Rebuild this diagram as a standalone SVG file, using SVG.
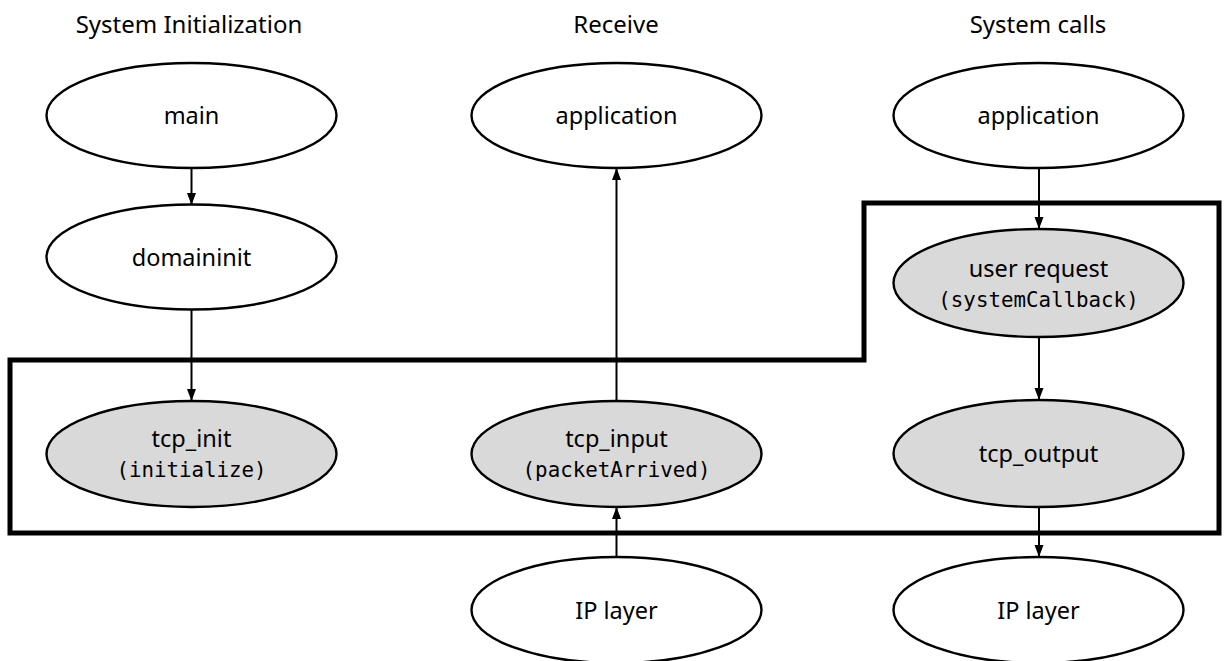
<svg xmlns="http://www.w3.org/2000/svg" width="1225" height="661" viewBox="0 0 1225 661">
<defs>
<style>
.n{stroke:#000;stroke-width:2.4;fill:#fff}
.g{fill:#d9d9d9}
.t{font-family:"Noto Sans","Open Sans","DejaVu Sans",sans-serif;font-size:23.5px;text-anchor:middle;fill:#000}
.m{font-family:"DejaVu Sans Mono","Liberation Mono",monospace;font-size:20.8px;text-anchor:middle;fill:#000}
.h{font-family:"Noto Sans","Open Sans","DejaVu Sans",sans-serif;font-size:24px;text-anchor:middle;fill:#000}
.e{stroke:#000;stroke-width:2;fill:none;marker-end:url(#a)}
</style>
<marker id="a" viewBox="0 0 12 10" refX="12" refY="5" markerWidth="12" markerHeight="10" markerUnits="userSpaceOnUse" orient="auto">
<path d="M0,0.5 L12,5 L0,9.5 Z" fill="#000"/>
</marker>
</defs>
<rect width="1225" height="661" fill="#fff"/>
<g id="headers">
<text class="h" x="189" y="33">System Initialization</text>
<text class="h" x="616" y="33">Receive</text>
<text class="h" x="1038" y="33">System calls</text>
</g>
<g id="boundary">
<polygon points="10,360 864,360 864,203 1219,203 1219,533 10,533" fill="none" stroke="#000" stroke-width="5"/>
</g>
<g id="connectors">
<line class="e" x1="191.5" y1="168" x2="191.5" y2="205"/>
<line class="e" x1="191.5" y1="309" x2="191.5" y2="401"/>
<line class="e" x1="616.5" y1="401" x2="616.5" y2="168"/>
<line class="e" x1="616.5" y1="557" x2="616.5" y2="507"/>
<line class="e" x1="1039" y1="168" x2="1039" y2="229"/>
<line class="e" x1="1039" y1="337" x2="1039" y2="400"/>
<line class="e" x1="1039" y1="507" x2="1039" y2="557"/>
</g>
<g id="main"><ellipse class="n" cx="191.5" cy="115.5" rx="145" ry="52.5"/><text class="t" x="191.5" y="124">main</text></g>
<g id="domaininit"><ellipse class="n" cx="191.5" cy="257" rx="145" ry="52.5"/><text class="t" x="191.5" y="265.5">domaininit</text></g>
<g id="tcp_init"><ellipse class="n g" cx="191.5" cy="454" rx="145" ry="53"/><text class="t" x="191.5" y="447">tcp_init</text><text class="m" x="191.5" y="477">(initialize)</text></g>
<g id="app_receive"><ellipse class="n" cx="616.5" cy="115.5" rx="145" ry="52.5"/><text class="t" x="616.5" y="124">application</text></g>
<g id="tcp_input"><ellipse class="n g" cx="616.5" cy="454" rx="145" ry="53"/><text class="t" x="616.5" y="447">tcp_input</text><text class="m" x="616.5" y="477">(packetArrived)</text></g>
<g id="ip_receive"><ellipse class="n" cx="616.5" cy="610" rx="145" ry="53"/><text class="t" x="616.5" y="618.5">IP layer</text></g>
<g id="app_syscalls"><ellipse class="n" cx="1038.5" cy="115.5" rx="145" ry="52.5"/><text class="t" x="1038.5" y="124">application</text></g>
<g id="user_request"><ellipse class="n g" cx="1038.5" cy="283" rx="145" ry="54"/><text class="t" x="1038.5" y="277">user request</text><text class="m" x="1038.5" y="307">(systemCallback)</text></g>
<g id="tcp_output"><ellipse class="n g" cx="1038.5" cy="453.5" rx="145" ry="53.5"/><text class="t" x="1038.5" y="462">tcp_output</text></g>
<g id="ip_syscalls"><ellipse class="n" cx="1038.5" cy="610" rx="145" ry="53"/><text class="t" x="1038.5" y="618.5">IP layer</text></g>
</svg>
